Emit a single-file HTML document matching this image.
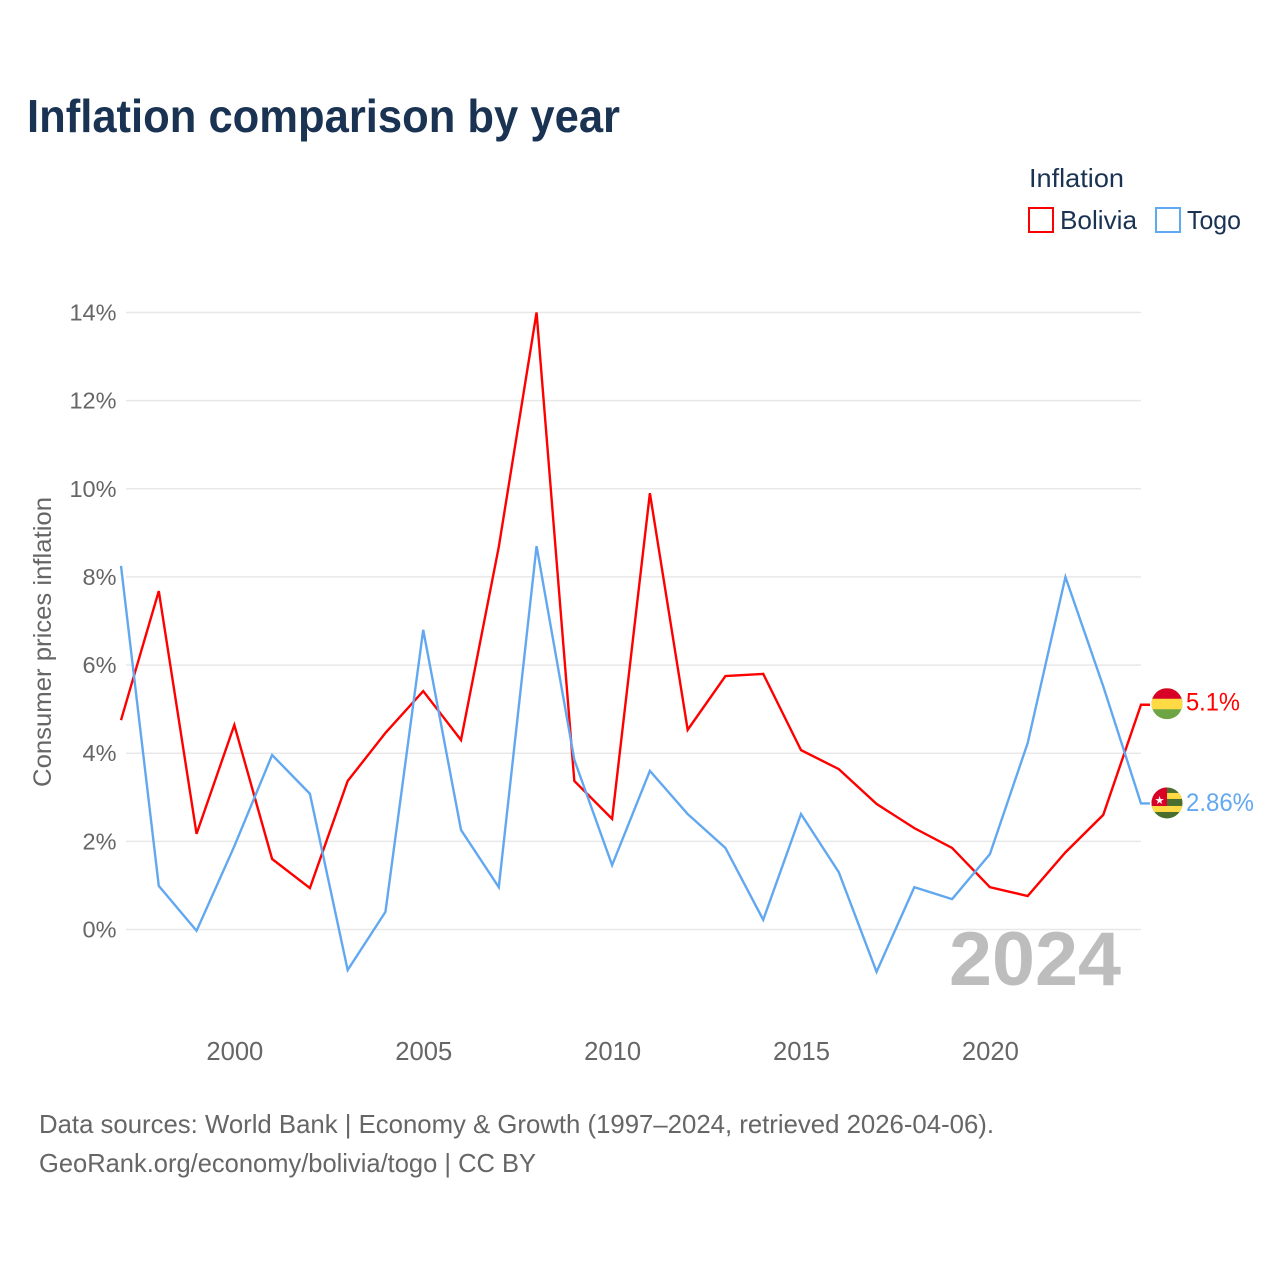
<!DOCTYPE html>
<html lang="en">
<head>
<meta charset="utf-8">
<title>Inflation comparison by year</title>
<style>
html,body{margin:0;padding:0;background:#fff;}
svg{display:block;font-family:"Liberation Sans",sans-serif;}
</style>
</head>
<body>
<svg id="chart" xmlns="http://www.w3.org/2000/svg" width="1280" height="1280" viewBox="0 0 1280 1280">
  <rect x="0" y="0" width="1280" height="1280" fill="#ffffff"/>
  <text x="27" y="132" font-size="46" font-weight="700" fill="#1a3353" textLength="593" lengthAdjust="spacingAndGlyphs">Inflation comparison by year</text>
  <g>
    <text x="1029" y="187" font-size="26" fill="#1a3353" textLength="95" lengthAdjust="spacingAndGlyphs">Inflation</text>
    <rect x="1029" y="208" width="24" height="24" fill="none" stroke="#ff0000" stroke-width="2"/>
    <text x="1060" y="229" font-size="26" fill="#1a3353" textLength="77" lengthAdjust="spacingAndGlyphs">Bolivia</text>
    <rect x="1156" y="208" width="24" height="24" fill="none" stroke="#62a8f0" stroke-width="2"/>
    <text x="1187" y="229" font-size="26" fill="#1a3353" textLength="54" lengthAdjust="spacingAndGlyphs">Togo</text>
  </g>
  <g id="grid"></g>
  <g id="yticks"></g>
  <g id="xticks"></g>
  <text transform="translate(51,642) rotate(-90)" text-anchor="middle" font-size="25" fill="#666666" textLength="290" lengthAdjust="spacingAndGlyphs">Consumer prices inflation</text>
  <text id="year-watermark" x="949" y="985" font-size="76" font-weight="700" fill="#bdbdbd" textLength="172" lengthAdjust="spacingAndGlyphs">2024</text>
  <g id="series"></g>
  <g id="end-markers"></g>
  <text x="39" y="1133" font-size="26" fill="#666666" textLength="955" lengthAdjust="spacingAndGlyphs">Data sources: World Bank | Economy &amp; Growth (1997–2024, retrieved 2026-04-06).</text>
  <text x="39" y="1172" font-size="26" fill="#666666" textLength="497" lengthAdjust="spacingAndGlyphs">GeoRank.org/economy/bolivia/togo | CC BY</text>
</svg>
<script>
const years = [1997,1998,1999,2000,2001,2002,2003,2004,2005,2006,2007,2008,2009,2010,2011,2012,2013,2014,2015,2016,2017,2018,2019,2020,2021,2022,2023,2024];
const bolivia = [4.75,7.68,2.17,4.64,1.6,0.94,3.37,4.46,5.41,4.3,8.68,14.0,3.37,2.51,9.9,4.53,5.75,5.8,4.07,3.64,2.85,2.3,1.85,0.96,0.76,1.75,2.6,5.1];
const togo = [8.25,0.99,-0.03,1.89,3.96,3.08,-0.92,0.4,6.8,2.26,0.96,8.7,3.85,1.46,3.6,2.62,1.85,0.22,2.62,1.3,-0.96,0.96,0.69,1.71,4.23,8.0,5.52,2.86];
const yTickValues = [0,2,4,6,8,10,12,14];
const xTickValues = [2000,2005,2010,2015,2020];
const boliviaEndLabel = '5.1%';
const togoEndLabel = '2.86%';

const NS = 'http://www.w3.org/2000/svg';
function x(year){ return 121 + (year - 1997) * (1141 - 121) / (2024 - 1997); }
function y(value){ return 929.5 - value * (929.5 - 312.5) / 14; }
function make(tag, attrs, parent){
  const el = document.createElementNS(NS, tag);
  for (const k in attrs) el.setAttribute(k, attrs[k]);
  parent.appendChild(el);
  return el;
}

const grid = document.getElementById('grid');
const yticks = document.getElementById('yticks');
yTickValues.forEach(function(v){
  const line = make('line', {x1:126, x2:1141, y1:y(v), y2:y(v), stroke:'#e8e8e8', 'stroke-width':1.5}, grid);
  
  
  const t = make('text', {x:116.5, y:y(v)+8, 'text-anchor':'end', 'font-size':23.5, fill:'#666666'}, yticks);
  
  
  t.textContent = v + '%';
});

const xticks = document.getElementById('xticks');
xTickValues.forEach(function(v){
  const t = make('text', {x:x(v)+0.5, y:1060, 'text-anchor':'middle', 'font-size':25.6, fill:'#666666'}, xticks);
  
  
  t.textContent = v;
});

const series = document.getElementById('series');
function points(values){
  return values.map(function(v, i){ return x(years[i]).toFixed(2) + ',' + y(v).toFixed(2); }).join(' ');
}
const boliviaLine = make('polyline', {points:points(bolivia) + ' 1150,' + y(bolivia[bolivia.length-1]).toFixed(2), fill:'none', stroke:'#ff0000', 'stroke-width':2.4, 'stroke-linejoin':'miter'}, series);


const togoLine = make('polyline', {points:points(togo) + ' 1150,' + y(togo[togo.length-1]).toFixed(2), fill:'none', stroke:'#62a8f0', 'stroke-width':2.4, 'stroke-linejoin':'miter'}, series);



const markers = document.getElementById('end-markers');
const defs = make('defs', {}, markers);
const cx = 1167, r = 15.5;

/* Bolivia flag */
const by = y(bolivia[bolivia.length-1]) - 1;
const bClip = make('clipPath', {id:'clip-bolivia'}, defs);
make('circle', {cx:cx, cy:by, r:r}, bClip);
const bFlag = make('g', {'clip-path':'url(#clip-bolivia)'}, markers);


make('rect', {x:cx-r, y:by-r, width:2*r, height:2*r, fill:'#6da544'}, bFlag);
make('rect', {x:cx-r, y:by-r, width:2*r, height:r+5.5, fill:'#ffda44'}, bFlag);
make('rect', {x:cx-r, y:by-r, width:2*r, height:r-5, fill:'#d80027'}, bFlag);
const bLabel = make('text', {x:1186, y:by+7, 'font-size':25, fill:'#ff0000', textLength:54, lengthAdjust:'spacingAndGlyphs'}, markers);


bLabel.textContent = boliviaEndLabel;

/* Togo flag */
const ty = y(togo[togo.length-1]) - 0.5;
const tClip = make('clipPath', {id:'clip-togo'}, defs);
make('circle', {cx:cx, cy:ty, r:r}, tClip);
const tFlag = make('g', {'clip-path':'url(#clip-togo)'}, markers);


make('rect', {x:cx-r, y:ty-r, width:2*r, height:2*r, fill:'#496e2d'}, tFlag);
make('rect', {x:cx-r, y:ty-10, width:2*r, height:6, fill:'#ffda44'}, tFlag);
make('rect', {x:cx-r, y:ty+3, width:2*r, height:6, fill:'#ffda44'}, tFlag);
make('rect', {x:cx-r, y:ty-r, width:r, height:r+3, fill:'#d80027'}, tFlag);
const star = make('text', {x:cx-7.5, y:ty+1, 'text-anchor':'middle', 'font-size':11, fill:'#ffffff', style:'font-family:"DejaVu Sans",sans-serif'}, tFlag);


star.textContent = '★';
const tLabel = make('text', {x:1186, y:ty+8, 'font-size':25, fill:'#62a8f0', textLength:68, lengthAdjust:'spacingAndGlyphs'}, markers);


tLabel.textContent = togoEndLabel;
</script>
</body>
</html>
